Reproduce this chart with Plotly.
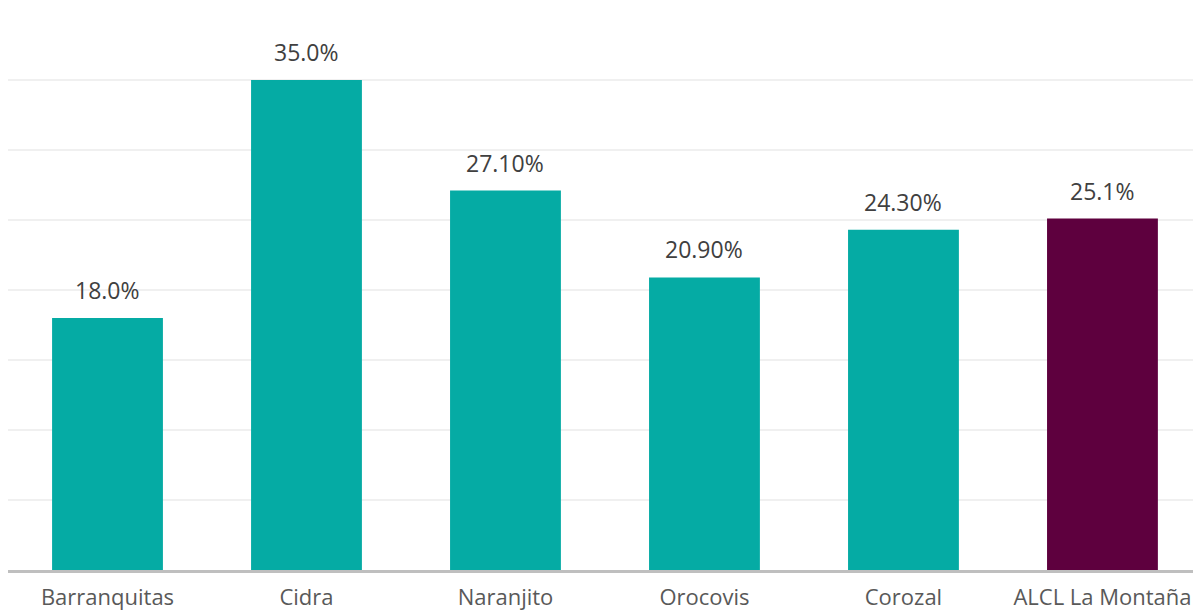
import plotly.graph_objects as go

categories = ["Barranquitas", "Cidra", "Naranjito", "Orocovis", "Corozal", "ALCL La Montaña"]
values = [18.0, 35.0, 27.1, 20.9, 24.3, 25.1]
labels = ["18.0%", "35.0%", "27.10%", "20.90%", "24.30%", "25.1%"]
colors = ["#05ABA4", "#05ABA4", "#05ABA4", "#05ABA4", "#05ABA4", "#5E003E"]

fig = go.Figure(go.Bar(
    x=categories, y=values,
    marker=dict(color=colors, line=dict(width=0)),
    width=0.557,
))
for c, v, t in zip(categories, values, labels):
    fig.add_annotation(x=c, y=v, text=t, showarrow=False, yanchor="bottom", yshift=10,
                       font=dict(size=23, color="#404040", family="Open Sans"))
fig.update_layout(
    width=1193, height=613, margin=dict(l=8, r=0, t=10, b=43),
    plot_bgcolor="white", paper_bgcolor="white", showlegend=False,
    font=dict(family="Open Sans"),
)
fig.update_xaxes(range=[-0.5, 5.455], showline=True, linecolor="#BFBFBF", linewidth=2.5,
                 tickfont=dict(size=22, color="#595959"), ticks="", ticklabelstandoff=6,
                 automargin=False)
fig.update_yaxes(range=[0, 40], dtick=5, showticklabels=False, gridcolor="#F0F0F0",
                 gridwidth=1.5, zeroline=False, automargin=False)
fig.write_html("out.html")
